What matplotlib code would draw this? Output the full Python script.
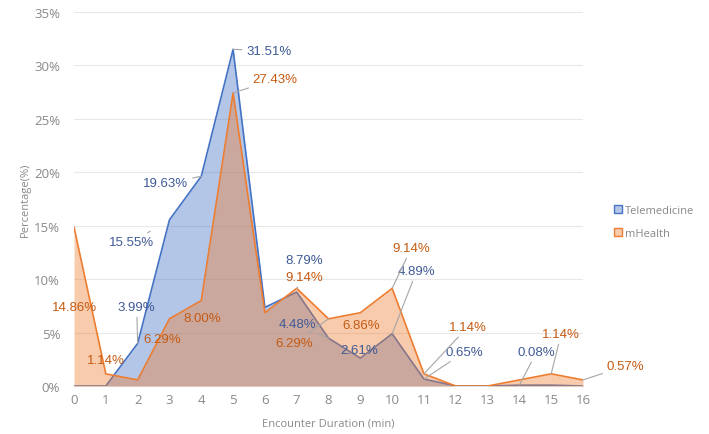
"""Encounter duration distribution: Telemedicine vs mHealth area chart."""

import matplotlib

matplotlib.use("Agg")
import matplotlib.pyplot as plt
from matplotlib.patches import Patch

# data
durations = list(range(17))
telemedicine = [0, 0, 3.99, 15.55, 19.63, 31.51, 7.36, 8.79, 4.48, 2.61, 4.89, 0.65, 0, 0, 0.08, 0.08, 0]
mhealth = [14.86, 1.14, 0.57, 6.29, 8.00, 27.43, 6.86, 9.14, 6.29, 6.86, 9.14, 1.14, 0, 0, 0.57, 1.14, 0.57]
y_ticks = [0, 5, 10, 15, 20, 25, 30, 35]

# which points get a label: (index, text offset dx, dy, leader shrink at point or None)
tele_labels = [
    (2, -0.03, 3.39, 0),
    (3, -1.19, -2.09, 16),
    (4, -1.11, -0.66, 0),
    (5, 1.12, -0.11, 0),
    (7, 0.25, 2.99, None),
    (8, -0.99, 1.31, 0),
    (9, -0.04, 0.75, None),
    (10, 0.77, 5.86, 0),
    (11, 1.28, 2.53, 0),
    (14, 0.54, 3.10, 0),
]
mh_labels = [
    (0, 0.0, -7.48, None),
    (1, -0.01, 1.29, None),
    (3, -0.22, -1.90, None),
    (4, 0.03, -1.64, None),
    (5, 1.32, 1.26, 0),
    (7, 0.25, 1.05, 0),
    (8, -1.08, -2.27, 0),
    (9, 0.03, -1.16, None),
    (10, 0.60, 3.76, 0),
    (11, 1.37, 4.37, 0),
    (15, 0.31, 3.72, 0),
    (16, 1.33, 1.30, 0),
]

BLUE = "#4472c4"
ORANGE = "#ed7d31"
BLUE_TXT = "#3f5a96"
ORANGE_TXT = "#c55a11"
GRAY = "#898989"
LABEL_FONT = "Liberation Sans"
AXIS_FONT = "Open Sans"


def draw_labels(ax, values, labels, color):
    for i, dx, dy, shrink in labels:
        x, y = durations[i], values[i]
        arrow = None
        if shrink is not None:
            arrow = dict(arrowstyle="-", color="#a6a6a6", lw=0.8, shrinkA=1, shrinkB=shrink)
        ax.annotate(
            f"{y:.2f}%",
            xy=(x, y),
            xytext=(x + dx, y + dy),
            ha="center",
            va="center",
            fontsize=9.5,
            family=LABEL_FONT,
            color=color,
            arrowprops=arrow,
            annotation_clip=False,
            zorder=5,
        )


def main() -> None:
    fig = plt.figure(figsize=(7.09, 4.35), dpi=100)
    ax = fig.add_axes([0.1044, 0.1103, 0.7179, 0.8597])

    ax.fill_between(durations, telemedicine, color=BLUE, alpha=0.4, lw=0, zorder=2)
    ax.plot(durations, telemedicine, color=BLUE, lw=1.2, zorder=2)
    ax.fill_between(durations, mhealth, color=ORANGE, alpha=0.4, lw=0, zorder=3)
    ax.plot(durations, mhealth, color=ORANGE, lw=1.2, zorder=3)

    draw_labels(ax, telemedicine, tele_labels, BLUE_TXT)
    draw_labels(ax, mhealth, mh_labels, ORANGE_TXT)

    ax.set_xlim(0, 16)
    ax.set_ylim(0, 35)
    ax.set_xticks(durations)
    ax.set_yticks(y_ticks)
    ax.set_yticklabels([f"{t}%" for t in y_ticks])
    ax.tick_params(length=0, colors=GRAY, labelsize=9.5)
    ax.tick_params(axis="x", pad=5)
    ax.tick_params(axis="y", pad=10)
    for lab in ax.get_xticklabels() + ax.get_yticklabels():
        lab.set_family(AXIS_FONT)
    ax.grid(axis="y", color="#e8e8e8", lw=0.8, zorder=0)
    ax.set_axisbelow(True)
    for side in ("top", "right", "left"):
        ax.spines[side].set_visible(False)
    ax.spines["bottom"].set_color("#e0e0e0")

    ax.set_xlabel("Encounter Duration (min)", fontsize=8, color=GRAY, family=AXIS_FONT, labelpad=8)
    ax.set_ylabel("Percentage(%)", fontsize=8, color=GRAY, family=AXIS_FONT, labelpad=2)

    handles = [
        Patch(facecolor=(0.706, 0.78, 0.906), edgecolor=BLUE, lw=1.0, label="Telemedicine"),
        Patch(facecolor=(0.973, 0.796, 0.678), edgecolor=ORANGE, lw=1.0, label="mHealth"),
    ]
    fig.legend(
        handles=handles,
        loc="center left",
        bbox_to_anchor=(0.866, 0.487),
        frameon=False,
        borderpad=0,
        borderaxespad=0,
        handlelength=0.75,
        handleheight=0.75,
        handletextpad=0.25,
        labelspacing=1.1,
        prop={"family": AXIS_FONT, "size": 8},
        labelcolor=GRAY,
    )

    fig.savefig("out.png", dpi=100)
    plt.close(fig)


if __name__ == "__main__":
    main()
